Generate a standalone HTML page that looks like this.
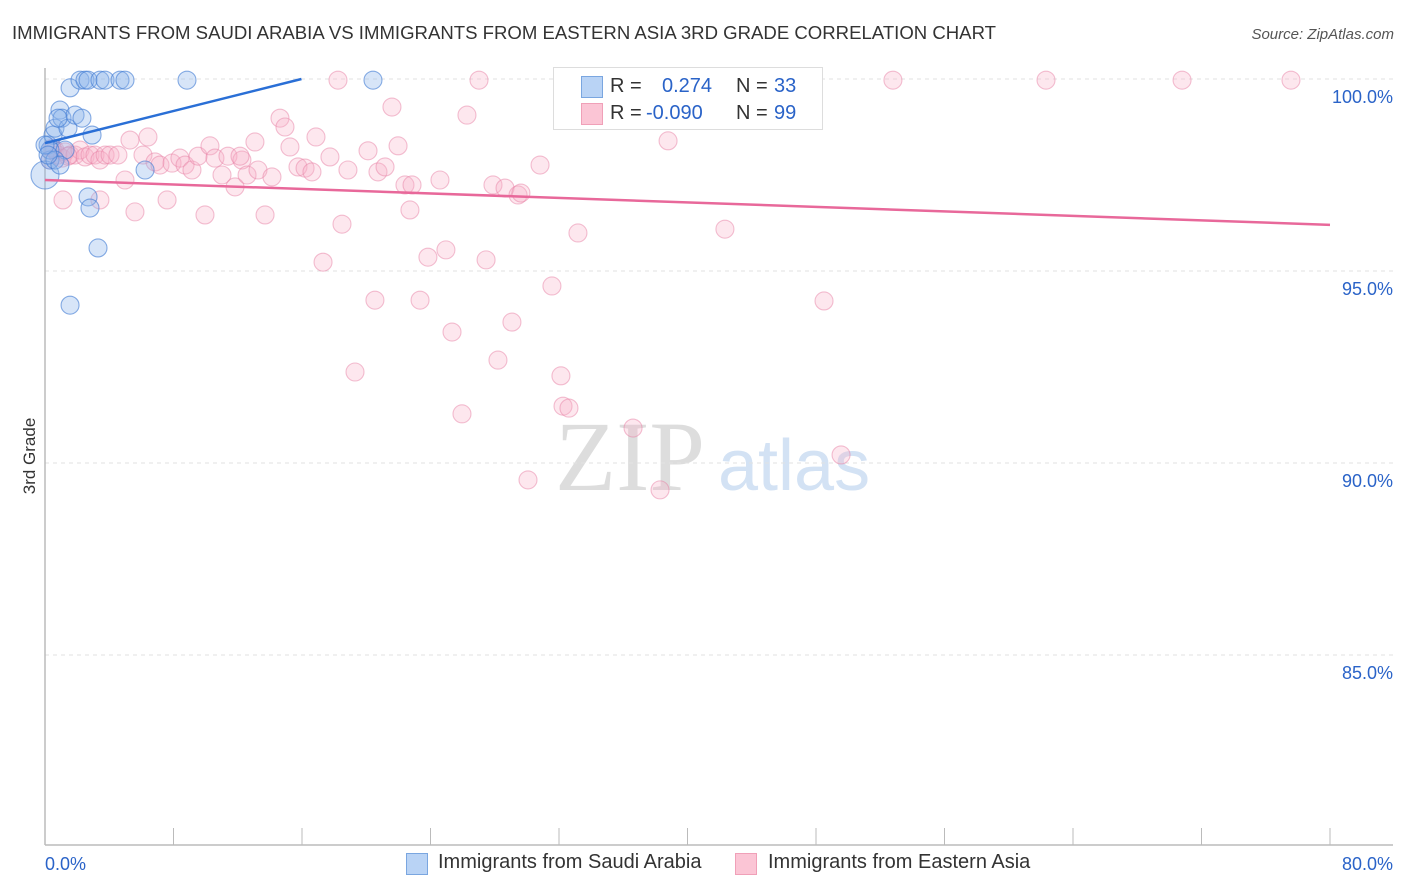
<!DOCTYPE html>
<html><head><meta charset="utf-8"><style>
body{margin:0;background:#fff;font-family:"Liberation Sans",sans-serif;}
#wrap{position:relative;width:1406px;height:892px;overflow:hidden;}
</style></head><body>
<div id="wrap">
<svg id="svg" width="1406" height="892" xmlns="http://www.w3.org/2000/svg">
<text x="12" y="39" font-size="18" fill="#333" textLength="984" lengthAdjust="spacingAndGlyphs">IMMIGRANTS FROM SAUDI ARABIA VS IMMIGRANTS FROM EASTERN ASIA 3RD GRADE CORRELATION CHART</text>
<text x="1394" y="39" font-size="15" fill="#555" font-style="italic" text-anchor="end">Source: ZipAtlas.com</text>
<text x="35" y="456" font-size="17" fill="#333" transform="rotate(-90 35 456)" text-anchor="middle">3rd Grade</text>
<g><text x="555" y="490" font-family="Liberation Serif" font-size="100" fill="#ddd">ZIP</text><text x="718" y="490" font-size="72" fill="#d3e2f4">atlas</text></g>
<g id="grid"></g><g id="pts"></g><g id="trend"></g>
</svg>
<div style="position:absolute;left:553px;top:67px;width:268px;height:61px;border:1px solid #ddd;background:#fff;font-size:20px;">
<div style="position:absolute;left:27px;top:8px;width:20px;height:20px;background:#b9d3f5;border:1px solid #7aa6e0"></div>
<div style="position:absolute;left:56px;top:7px;color:#333">R =</div><div style="position:absolute;left:108px;top:7px;color:#2a63c8">0.274</div><div style="position:absolute;left:182px;top:7px;color:#333">N =</div><div style="position:absolute;left:220px;top:7px;color:#2a63c8">33</div>
<div style="position:absolute;left:27px;top:35px;width:20px;height:20px;background:#fbc5d5;border:1px solid #f0a0b8"></div>
<div style="position:absolute;left:56px;top:34px;color:#333">R =</div><div style="position:absolute;left:92px;top:34px;color:#2a63c8">-0.090</div><div style="position:absolute;left:182px;top:34px;color:#333">N =</div><div style="position:absolute;left:220px;top:34px;color:#2a63c8">99</div>
</div>
<div style="position:absolute;left:406px;top:853px;width:20px;height:20px;background:#b9d3f5;border:1px solid #7aa6e0"></div>
<div style="position:absolute;left:438px;top:851px;font-size:20px;color:#333">Immigrants from Saudi Arabia</div>
<div style="position:absolute;left:735px;top:853px;width:20px;height:20px;background:#fbc5d5;border:1px solid #f0a0b8"></div>
<div style="position:absolute;left:768px;top:851px;font-size:20px;color:#333">Immigrants from Eastern Asia</div>
</div>
<script>
const xTicks=[0,10,20,30,40,50,60,70,80];
const yTicks=[100,95,90,85];
const yTickLabels=["100.0%","95.0%","90.0%","85.0%"];
const blueX=[0.19,0.31,0.50,0.62,0.93,1.06,1.25,1.56,1.43,1.87,2.18,2.30,2.49,2.68,2.93,3.42,3.74,4.67,4.98,8.84,20.42,6.23,2.68,2.80,3.30,1.56,0,0.31,0.62,0.93,0,0.19,0.81];
const blueY=[98.28,97.89,98.54,98.72,99.19,98.98,98.15,99.77,98.72,99.06,99.97,98.98,99.97,99.97,98.54,99.97,99.97,99.97,99.97,99.97,99.97,97.63,96.93,96.64,95.60,94.11,97.5,98.15,97.89,97.76,98.28,98.02,98.98];
const pinkX=[0.31,0.62,0.81,1.06,1.25,1.56,1.87,2.18,2.49,2.80,3.11,3.42,3.74,4.05,4.54,4.98,5.29,5.60,6.10,6.41,6.85,7.16,7.60,7.91,8.40,8.72,9.15,9.53,9.96,10.27,10.58,11.02,11.39,11.83,12.26,12.58,13.26,13.70,14.13,13.07,14.63,14.94,15.25,15.75,16.19,16.62,16.87,17.31,17.74,18.24,18.49,18.86,19.30,20.11,20.54,20.73,21.17,21.60,21.98,22.41,22.85,22.72,23.35,23.84,24.59,24.96,25.34,25.96,26.27,27.02,27.46,27.89,28.20,28.64,29.07,29.45,29.63,30.07,30.82,31.56,32.12,32.25,32.62,33.18,34.18,36.61,37.35,38.29,38.79,42.33,43.08,48.50,49.56,52.79,62.32,70.79,77.57,1.12,3.42,0.44,1.43,12.14];
const pinkY=[97.89,98.15,98.02,97.94,98.10,98.02,98.02,98.15,97.97,98.02,98.02,97.89,98.02,98.02,98.02,97.37,98.41,96.54,98.02,98.49,97.84,97.76,96.85,97.81,97.94,97.76,97.63,97.99,96.46,98.26,97.94,97.50,97.99,97.19,97.89,97.50,97.63,96.46,97.45,98.36,98.98,98.75,98.23,97.71,97.68,97.58,98.49,95.23,97.97,99.97,96.22,97.63,92.37,98.13,94.24,97.58,97.71,99.27,98.26,97.24,97.24,96.59,94.24,95.36,97.37,95.55,93.41,91.28,99.06,99.97,95.29,97.24,92.68,97.16,93.67,96.98,97.03,89.56,97.76,94.61,92.27,91.48,91.43,95.99,99.97,90.91,99.97,89.30,98.39,96.09,99.97,94.22,90.21,99.97,99.97,99.97,99.97,96.85,96.85,98.20,97.99,97.99];
const blueTrend=[98.33,0.1046];
const pinkTrend=[97.37,-0.0146];
const X=v=>45+v/80*1285, Y=v=>79+(100-v)*38.4;
const NS="http://www.w3.org/2000/svg";
function mk(tag,attrs,parent){const e=document.createElementNS(NS,tag);for(const k in attrs)e.setAttribute(k,attrs[k]);parent.appendChild(e);return e;}
const grid=document.getElementById('grid'),pts=document.getElementById('pts'),tr=document.getElementById('trend');
yTicks.forEach((t,i)=>{
 const l=mk('line',{x1:45,x2:1393,y1:Y(t),y2:Y(t),stroke:'#e2e2e2','stroke-dasharray':'4 4'},grid);
 
 
 const tx=mk('text',{x:1393,y:Y(t)+24,'font-size':18,fill:'#2a63c8','text-anchor':'end'},grid);
 tx.textContent=yTickLabels[i];
 
 
});
const ax=mk('line',{x1:45,x2:1393,y1:845,y2:845,stroke:'#bbb','stroke-width':1.5},grid);


const ay=mk('line',{x1:45,x2:45,y1:68,y2:845,stroke:'#bbb','stroke-width':1.5},grid);


for(let v=0;v<=80;v+=8){const t=mk('line',{x1:X(v),x2:X(v),y1:828,y2:845,stroke:'#bbb'},grid);
 
 }
[[0,'0.0%','start',45],[80,'80.0%','end',1393]].forEach(a=>{const t=mk('text',{x:a[3],y:870,'font-size':18,fill:'#2a63c8','text-anchor':a[2]},grid);t.textContent=a[1];
 
 });
pinkX.forEach((x,i)=>{const c=mk('circle',{cx:X(x),cy:Y(pinkY[i]),r:9,fill:'rgba(248,175,198,0.3)',stroke:'rgba(232,130,165,0.5)','stroke-width':1.1},pts);
 
 });
blueX.forEach((x,i)=>{const c=mk('circle',{cx:X(x),cy:Y(blueY[i]),r:(i==26?14:9),fill:'rgba(140,180,235,0.35)',stroke:'rgba(60,120,210,0.6)','stroke-width':1.1},pts);
 
 });
const bx2=(100-blueTrend[0])/blueTrend[1];
const bl=mk('line',{x1:X(0),y1:Y(blueTrend[0]),x2:X(bx2),y2:Y(100),stroke:'#2a6fd6','stroke-width':2.5},tr);


const pl=mk('line',{x1:X(0),y1:Y(pinkTrend[0]),x2:X(80),y2:Y(pinkTrend[0]+pinkTrend[1]*80),stroke:'#e8689a','stroke-width':2.5},tr);


</script>
</body></html>
